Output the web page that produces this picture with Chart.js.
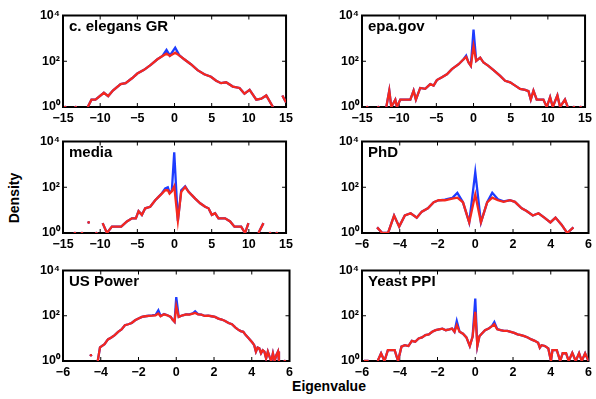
<!DOCTYPE html>
<html>
<head>
<meta charset="utf-8">
<script src="https://cdn.jsdelivr.net/npm/chart.js@4/dist/chart.umd.min.js"></script>
<style>
  html, body { margin: 0; padding: 0; background: #fff; }
  body { width: 596px; height: 399px; position: relative; overflow: hidden; font-family: "Liberation Sans", Arial, sans-serif; }
  canvas { position: absolute; }
  .lbl { position: absolute; font-weight: bold; font-size: 14px; color: #000; white-space: nowrap; }
</style>
</head>
<body>
<div class="lbl" id="ylab" style="left:14px; top:198px; transform: translate(-50%,-50%) rotate(-90deg);">Density</div>
<div class="lbl" id="xlab" style="left:329px; top:386px; transform: translate(-50%,-50%);">Eigenvalue</div>
<script>
// ---------- DATA ----------
const panelNames = ['c. elegans GR', 'epa.gov', 'media', 'PhD', 'US Power', 'Yeast PPI'];
const xLimits = [[-15, 15], [-15, 15], [-15, 15], [-6, 6], [-6, 6], [-6, 6]];
const xTickSteps = [5, 5, 5, 2, 2, 2];
const yTickValues = [1, 100, 10000];
const yTickLabels = ['10\u2070', '10\u00B2', '10\u2074'];

// c. elegans GR
const elegansX = [-14.7, -14.2, -13.3, -12.6, -11.67, -11.17, -10.63, -9.5, -8.92, -8.29, -7.25, -6.58, -5.68, -5.0, -4.1, -3.2, -2.3, -1.62, -1.08, -0.63, 0.09, 0.63, 1.3, 2.2, 3.1, 4.0, 4.9, 5.6, 6.26, 6.94, 7.84, 8.74, 9.41, 10.1, 11.0, 11.67, 12.34, 13.24, 13.9, 14.5, 15.0];
const elegansRed = [1, null, 1, null, 1, 2.1, 2.1, 4.2, 3, 5.2, 10, 11, 18.5, 29, 42, 69, 122, 170, 215, 170, 237, 180, 122, 74, 41, 27, 21, 14, 11, 12, 7.8, 6.8, 3.8, 5.6, 2.1, 2.3, 3.2, 1, null, 3.2, 1.6];
const elegansBlue = [1, null, 1, null, 1, 2.1, 2.1, 4.2, 3, 5.2, 10, 11, 18.5, 29, 42, 69, 122, 170, 310, 175, 390, 185, 122, 74, 41, 27, 21, 14, 11, 12, 7.8, 6.8, 3.8, 5.6, 2.1, 2.3, 3.2, 1, null, 3.2, 1.6];

// epa.gov
const epaX = [-14.3, -13.5, -12.8, -12.2, -11.73, -11.33, -11.06, -10.52, -10.3, -9.85, -8.5, -8.06, -7.75, -7.17, -6.5, -5.82, -5.37, -4.93, -4.25, -3.58, -2.91, -2.0, -1.34, -0.99, -0.67, -0.36, 0, 0.36, 0.9, 1.34, 2.0, 2.69, 3.58, 4.25, 4.93, 5.6, 6.27, 6.94, 7.39, 7.7, 8.06, 8.5, 8.96, 9.4, 9.85, 10.3, 10.66, 11.28, 11.64, 12.3, 12.67, 13.1, 13.5, 14.0, 14.4];
const epaRed = [1, null, 1, null, 1, 5.2, 1, 2.1, 1, 2.1, 2.1, 5.2, 2.1, 6.8, 6.2, 10, 8.6, 15, 20, 27, 45, 74, 122, 154, 88, 63, 460, 103, 144, 88, 63, 41, 23, 14, 12, 8.6, 6.2, 5.6, 4.9, 2.1, 5.2, 2.1, 2.1, 2.1, 1, 2.7, 1, 3.2, 1, 2.1, 1, null, 1, null, 1];
const epaBlue = [1, null, 1, null, 1, 5.2, 1, 2.1, 1, 2.1, 2.1, 5.2, 2.1, 6.8, 6.2, 10, 8.6, 15, 20, 27, 45, 74, 122, 175, 88, 63, 2400, 103, 144, 88, 63, 41, 23, 14, 12, 8.6, 6.2, 5.6, 4.9, 2.1, 5.2, 2.1, 2.1, 2.1, 1, 2.7, 1, 3.2, 1, 2.1, 1, null, 1, null, 1];

// media
const mediaX = [-13.4, -12.9, -12.45, -12.0, -11.55, -11.0, -10.5, -10.1, -9.67, -9.09, -8.42, -7.17, -6.4, -5.73, -5.2, -4.84, -4.39, -3.94, -3.27, -2.6, -2.15, -1.7, -1.25, -0.9, -0.67, -0.36, -0.04, 0.45, 0.9, 1.43, 1.88, 2.33, 2.78, 3.45, 4.12, 4.57, 5.02, 5.46, 5.91, 6.8, 7.48, 8.06, 8.96, 9.49, 9.94, 10.6, 11.29, 11.96, 12.4, 12.85, 13.3, 13.75];
const mediaRed = [1, null, 1, null, 2.9, null, 1, null, 2.7, 1, 1.9, 1.9, 3.2, 4.4, 4.4, 9, 6.2, 12, 14, 27, 38, 53, 74, 74, 53, 67, 110, 3.4, 63, 103, 63, 45, 32, 20, 14, 12, 6.2, 7.3, 4.4, 4.4, 3.2, 1.9, 1.9, 1, 2.7, null, 1, 2.7, null, 1, null, 1];
const mediaBlue = [1, null, 1, null, 2.9, null, 1, null, 2.7, 1, 1.9, 1.9, 3.2, 4.4, 4.4, 9, 6.2, 12, 14, 27, 38, 55, 88, 100, 60, 70, 3370, 3.4, 74, 110, 65, 45, 32, 20, 14, 12, 6.2, 7.3, 4.4, 4.4, 3.2, 1.9, 1.9, 1, 2.7, null, 1, 2.7, null, 1, null, 1];

// PhD
const phdX = [-5.2, -4.93, -4.62, -4.3, -4.03, -3.73, -3.42, -3.1, -2.83, -2.51, -2.2, -1.94, -1.61, -1.22, -0.95, -0.65, -0.32, 0, 0.3, 0.63, 0.9, 1.2, 1.5, 1.83, 2.1, 2.46, 2.72, 3.05, 3.35, 3.66, 3.98, 4.25, 4.57, 4.87, 5.2];
const phdRed = [1.76, 1, 1, 5.8, 1.9, 5.8, 7.3, 4.7, 8.6, 12, 22, 27, 27, 32, 35, 22, 2.9, 48, 2.9, 22, 35, 27, 23, 27, 23, 12, 9.2, 5.8, 7.3, 4.7, 2.9, 4.7, 2.3, 1, 1.76];
const phdBlue = [1.76, 1, 1, 5.8, 1.9, 5.8, 7.3, 4.7, 8.6, 12, 22, 27, 29, 34, 57, 22, 2.9, 460, 2.9, 22, 57, 30, 24, 27, 23, 12, 9.2, 5.8, 7.3, 4.7, 2.9, 4.7, 2.3, 1, 1.76];

// US Power
const powerX = [-4.52, -4.35, -4.16, -4.04, -3.8, -3.62, -3.44, -3.26, -3.08, -2.9, -2.72, -2.54, -2.36, -2.18, -2.0, -1.82, -1.64, -1.46, -1.28, -1.1, -0.95, -0.83, -0.65, -0.47, -0.29, -0.2, -0.09, 0, 0.13, 0.34, 0.52, 0.7, 0.88, 1.0, 1.15, 1.33, 1.51, 1.69, 1.87, 2.05, 2.23, 2.41, 2.59, 2.77, 2.95, 3.14, 3.26, 3.41, 3.55, 3.68, 3.8, 3.95, 4.04, 4.13, 4.22, 4.31, 4.4, 4.49, 4.58, 4.67, 4.76, 4.85, 4.94, 5.03, 5.12, 5.21, 5.3, 5.39, 5.44, 5.6, 5.75];
const powerRed = [1.8, null, 1, 4, 5.6, 9, 11, 14, 19.5, 25, 38, 42, 48, 63, 75, 89, 95, 98, 101, 105, 125, 95, 116, 105, 89, 68, 54, 260, 89, 105, 116, 112, 125, 133, 116, 112, 98, 101, 95, 89, 75, 68, 59, 48, 42, 30, 25, 21, 19.5, 14, 11, 7.8, 6.4, 5, 2.6, 3.9, 3.6, 2.2, 3.0, 2.6, 1.3, 2.6, 1.55, 1, 2.2, 1, 1.8, 2.6, 1, null, 1];
const powerBlue = [1.8, null, 1, 4, 5.6, 9, 11, 14, 19.5, 25, 38, 42, 48, 63, 75, 89, 95, 100, 103, 108, 175, 98, 118, 105, 89, 68, 54, 670, 89, 105, 116, 114, 128, 158, 118, 112, 98, 101, 95, 89, 75, 68, 59, 48, 42, 30, 25, 21, 19.5, 14, 11, 7.8, 6.4, 5, 2.6, 3.9, 3.6, 2.2, 3.0, 2.6, 1.3, 2.6, 1.55, 1, 2.2, 1, 1.8, 2.6, 1, null, 1];

// Yeast PPI
const yeastX = [-5.9, -5.65, -5.4, -5.17, -4.99, -4.81, -4.63, -4.27, -4.09, -3.91, -3.73, -3.54, -3.36, -3.18, -3.0, -2.82, -2.64, -2.46, -2.28, -2.1, -1.92, -1.74, -1.56, -1.37, -1.23, -1.1, -0.98, -0.83, -0.65, -0.47, -0.29, -0.14, 0, 0.11, 0.22, 0.34, 0.52, 0.71, 0.89, 1.01, 1.16, 1.34, 1.52, 1.7, 1.88, 2.06, 2.24, 2.42, 2.6, 2.78, 2.97, 3.15, 3.33, 3.42, 3.51, 3.69, 3.87, 4.01, 4.09, 4.32, 4.5, 4.63, 4.81, 4.95, 5.14, 5.32, 5.5, 5.64, 5.82, 6.0];
const yeastRed = [1, 1, null, 1, 2.2, 1, 3.0, 3.0, 1, 4.3, 5.0, 4.6, 7.8, 7.1, 9.9, 11, 14, 15, 19.5, 23, 25, 27, 23, 25, 27, 19.5, 38, 19.5, 16, 11, 4.6, 12, 148, 4.6, 12.5, 16, 23, 27, 35, 42, 25, 23, 21.5, 21.5, 19.5, 17.5, 15, 14, 12.5, 11, 9, 7.8, 6.4, 3.9, 5, 4.6, 3.6, 1, 3.0, 3.0, 1, 2.2, 2.2, 1, 2.3, 1, 2.2, 1, 2.2, 1];
const yeastBlue = [1, 1, null, 1, 2.2, 1, 3.0, 3.0, 1, 4.3, 5.0, 4.6, 7.8, 7.1, 9.9, 11, 14, 15, 19.5, 23, 25, 27, 23, 25, 27, 19.5, 59, 19.5, 16, 11, 4.6, 12, 570, 4.6, 12.5, 16, 23, 27, 36, 53, 26, 23, 21.5, 21.5, 19.5, 17.5, 15, 14, 12.5, 11, 9, 7.8, 6.4, 3.9, 5, 4.6, 3.6, 1, 3.0, 3.0, 1, 2.2, 2.2, 1, 2.3, 1, 2.2, 1, 2.2, 1];

const panelX = [elegansX, epaX, mediaX, phdX, powerX, yeastX];
const panelRed = [elegansRed, epaRed, mediaRed, phdRed, powerRed, yeastRed];
const panelBlue = [elegansBlue, epaBlue, mediaBlue, phdBlue, powerBlue, yeastBlue];

// ---------- LAYOUT ----------
const colLeft = [63, 362];
const plotW = 228;
const rowTop = [15, 141, 270];
const rowBottom = [107, 233, 361];
const YAXIS_W = 45, PAD_TOP = 10, PAD_RIGHT = 6, XAXIS_H = 22;

const FONT = '"Liberation Sans", Arial, Helvetica, sans-serif';
Chart.defaults.font.family = FONT;
Chart.defaults.font.weight = 'bold';
Chart.defaults.color = '#000';

const RED = '#f5281e';
const BLUE = '#1e3cff';

function toPoints(xs, ys) {
  return xs.map((x, i) => ({ x: x, y: ys[i] }));
}
function isolatedRadius(ctx) {
  const d = ctx.dataset.data, i = ctx.dataIndex;
  if (!d[i] || d[i].y == null) return 0;
  const p = d[i - 1], n = d[i + 1];
  const iso = (!p || p.y == null) && (!n || n.y == null);
  return iso ? 1.3 : 0;
}

const boxPlugin = {
  id: 'boxPlugin',
  beforeDatasetsDraw(chart) {
    const { ctx, chartArea: a, scales } = chart;
    ctx.save();
    ctx.strokeStyle = '#000';
    ctx.lineWidth = 1;
    const tl = 4;
    ctx.beginPath();
    scales.x.ticks.forEach(t => {
      const px = scales.x.getPixelForValue(t.value);
      ctx.moveTo(px, a.bottom); ctx.lineTo(px, a.bottom - tl);
      ctx.moveTo(px, a.top); ctx.lineTo(px, a.top + tl);
    });
    scales.y.ticks.forEach(t => {
      const py = scales.y.getPixelForValue(t.value);
      ctx.moveTo(a.left, py); ctx.lineTo(a.left + tl, py);
      ctx.moveTo(a.right, py); ctx.lineTo(a.right - tl, py);
    });
    ctx.stroke();
    ctx.lineWidth = 2;
    ctx.strokeRect(a.left, a.top, a.right - a.left, a.bottom - a.top);
    ctx.restore();
  },
  afterDraw(chart) {
    const { ctx, chartArea: a } = chart;
    ctx.save();
    ctx.fillStyle = '#000';
    ctx.font = 'bold 15px ' + FONT;
    ctx.textBaseline = 'alphabetic';
    ctx.textAlign = 'left';
    ctx.fillText(chart.options.plugins.boxPlugin.title, a.left + 6, a.top + 15);
    ctx.restore();
  }
};

panelNames.forEach((name, k) => {
  const col = k % 2, row = Math.floor(k / 2);
  const plotL = colLeft[col], plotT = rowTop[row], plotB = rowBottom[row];
  const plotH = plotB - plotT;
  const cv = document.createElement('canvas');
  const W = YAXIS_W + plotW + PAD_RIGHT;
  const H = PAD_TOP + plotH + XAXIS_H;
  cv.width = W; cv.height = H;
  cv.style.width = W + 'px'; cv.style.height = H + 'px';
  cv.style.left = (plotL - YAXIS_W) + 'px';
  cv.style.top = (plotT - PAD_TOP) + 'px';
  document.body.appendChild(cv);

  const xs = panelX[k];
  new Chart(cv, {
    type: 'line',
    data: {
      datasets: [
        { label: 'red', data: toPoints(xs, panelRed[k]), borderColor: RED, backgroundColor: RED,
          borderWidth: 2.3, pointRadius: isolatedRadius, pointBorderWidth: 0, tension: 0, spanGaps: false },
        { label: 'blue', data: toPoints(xs, panelBlue[k]), borderColor: BLUE, backgroundColor: BLUE,
          borderWidth: 2.3, pointRadius: isolatedRadius, pointBorderWidth: 0, tension: 0, spanGaps: false }
      ]
    },
    options: {
      responsive: false,
      animation: false,
      devicePixelRatio: 1,
      layout: { padding: { left: 0, top: PAD_TOP, right: PAD_RIGHT, bottom: 0 } },
      plugins: { legend: { display: false }, tooltip: { enabled: false }, boxPlugin: { title: name } },
      events: [],
      scales: {
        x: {
          type: 'linear',
          min: xLimits[k][0], max: xLimits[k][1],
          grid: { display: false, drawTicks: false },
          border: { display: false },
          afterFit: s => { s.height = XAXIS_H; },
          ticks: {
            stepSize: xTickSteps[k], autoSkip: false, maxRotation: 0, padding: 4,
            font: { size: 12.5, weight: 'bold' },
            callback: v => String(v).replace('-', '\u2212')
          }
        },
        y: {
          type: 'logarithmic',
          min: 1, max: 10000,
          grid: { display: false, drawTicks: false },
          border: { display: false },
          afterFit: s => { s.width = YAXIS_W; },
          afterBuildTicks: s => { s.ticks = yTickValues.map(v => ({ value: v })); },
          ticks: {
            padding: 3, autoSkip: false,
            font: { size: 12.5, weight: 'bold' },
            callback: v => yTickLabels[yTickValues.indexOf(v)]
          }
        }
      }
    },
    plugins: [boxPlugin]
  });
});
</script>
</body>
</html>
